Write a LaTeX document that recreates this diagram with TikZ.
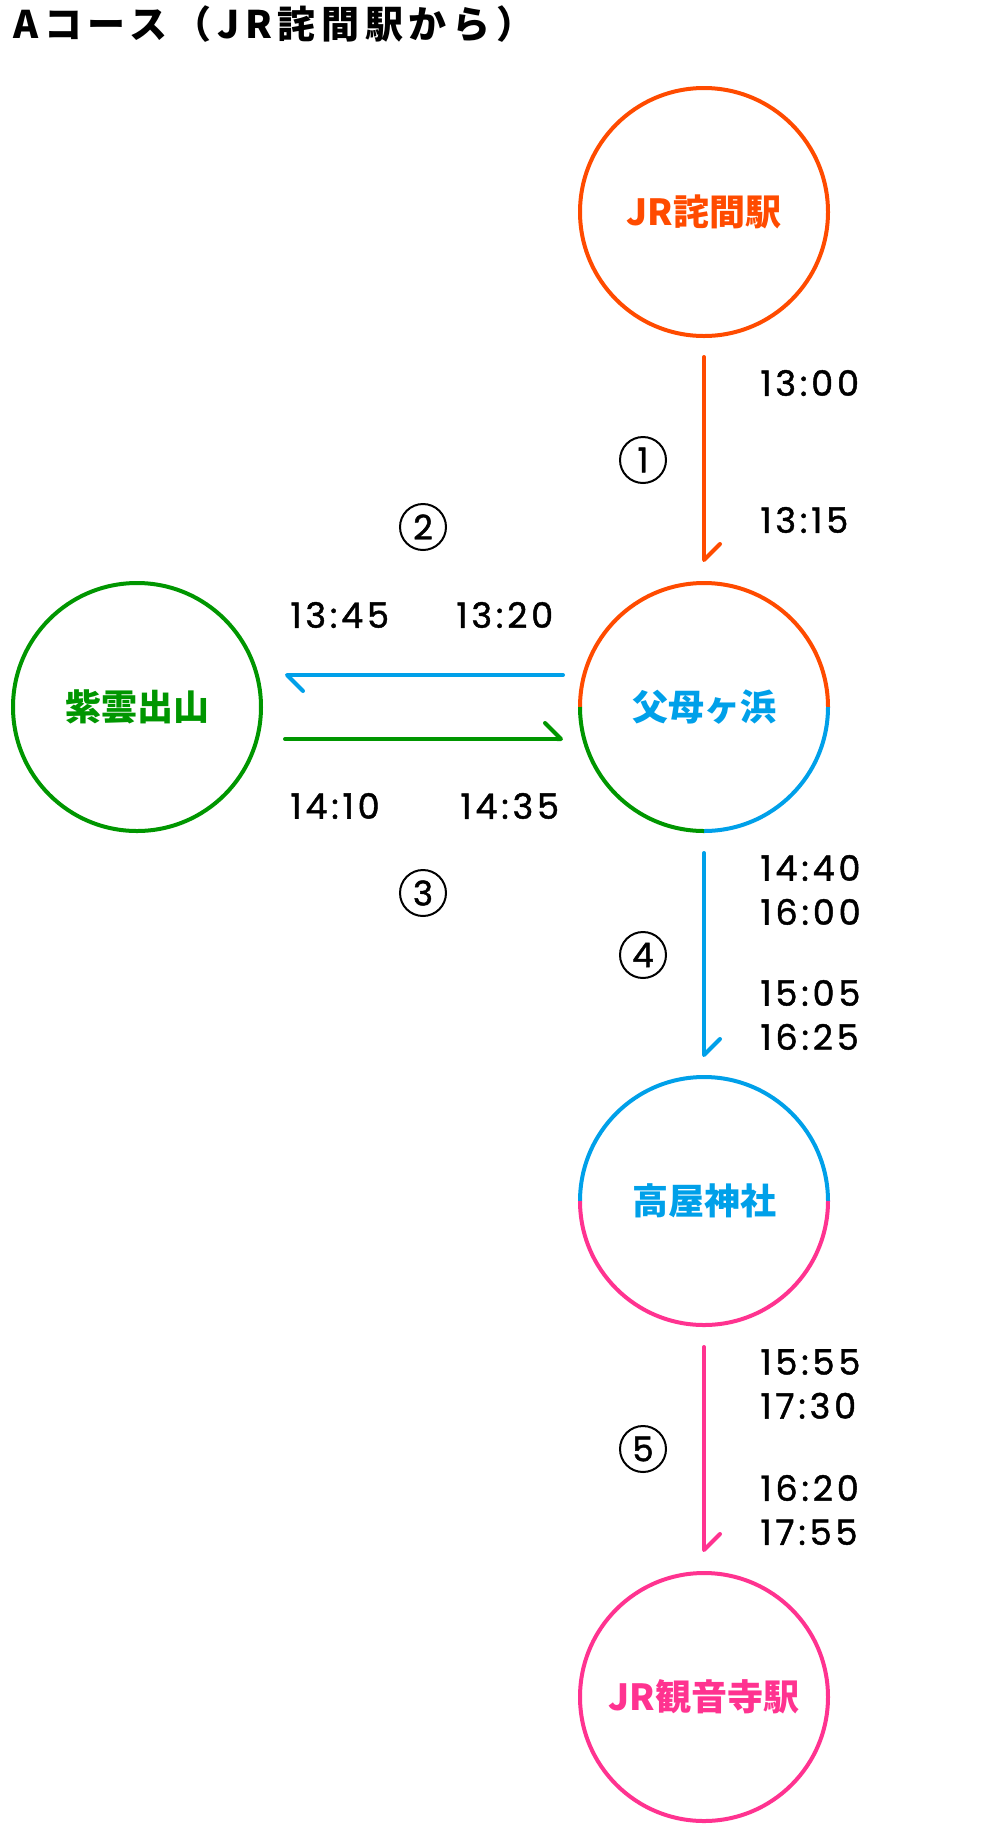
\documentclass[tikz,border=0pt]{standalone}
\usepackage{fontspec}
\usetikzlibrary{positioning,arrows.meta}
\newfontfamily\jpfont{Noto Sans CJK JP}
\newfontfamily\timefont[LetterSpace=11, FakeBold=1.3]{Poppins}
\definecolor{routeorange}{HTML}{FF4B00}
\definecolor{routeblue}{HTML}{00A0E9}
\definecolor{routegreen}{HTML}{009600}
\definecolor{routepink}{HTML}{FF3390}

\begin{document}
\begin{tikzpicture}
  [x=0.5pt, y=0.5pt,
   station/.style={circle, line width=2pt, minimum size=124pt, inner sep=0pt, font=\jpfont\bfseries\fontsize{18}{20}\selectfont},
   time/.style={anchor=west, align=left, inner sep=0pt, font=\timefont\fontsize{17.5}{22}\selectfont},
   stepnum/.style={circle, draw, line width=1pt, minimum size=23pt, inner sep=0pt, font=\timefont\fontsize{17}{20}\selectfont},
   route/.style={line width=2pt, line cap=round, -{Straight Barb[left, length=8pt, width=16pt, round]}}]

  \useasboundingbox (0,0) rectangle (1000,-1837);

  \node[anchor=base west, inner sep=0pt, font=\jpfont\bfseries\fontsize{19}{20}\selectfont\addfontfeature{LetterSpace=15}] (title) at (13,-38) {Aコース（JR詫間駅から）};

  % stations
  \node[station, draw=routeorange, text=routeorange] (takuma) at (704,-212) {JR詫間駅};
  \node[station, text=routeblue] (hama) at (704,-707) {父母ヶ浜};
  \node[station, draw=routegreen, text=routegreen] (shiude) at (137,-707) {紫雲出山};
  \node[station, text=routeblue] (takaya) at (704,-1201) {高屋神社};
  \node[station, draw=routepink, text=routepink] (kanonji) at (704,-1697) {JR観音寺駅};

  % split rings
  \draw[routeorange, line width=2pt] (hama.center) ++(180:62pt) arc[start angle=180, end angle=0, radius=62pt];
  \draw[routeblue, line width=2pt] (hama.center) ++(0:62pt) arc[start angle=0, end angle=-90, radius=62pt];
  \draw[routegreen, line width=2pt] (hama.center) ++(-90:62pt) arc[start angle=-90, end angle=-180, radius=62pt];
  \draw[routeblue, line width=2pt] (takaya.center) ++(180:62pt) arc[start angle=180, end angle=0, radius=62pt];
  \draw[routepink, line width=2pt] (takaya.center) ++(0:62pt) arc[start angle=0, end angle=-180, radius=62pt];

  % routes
  \draw[route, routeorange, shorten <=9.5pt, shorten >=9.5pt] (takuma.south) -- (hama.north);
  \draw[route, routeblue, shorten <=7.5pt, shorten >=11pt] ([yshift=16pt]hama.west) -- ([yshift=16pt]shiude.east);
  \draw[route, routegreen, shorten <=11pt, shorten >=7.5pt] ([yshift=-16pt]shiude.east) -- ([yshift=-16pt]hama.west);
  \draw[route, routeblue, shorten <=10pt, shorten >=9pt] (hama.south) -- (takaya.north);
  \draw[route, routepink, shorten <=10pt, shorten >=9.5pt] (takaya.south) -- (kanonji.north);

  \foreach \n/\x/\y in {1/643/-460, 2/423/-527, 3/423/-893, 4/643/-955, 5/643/-1449}
    \node[stepnum] (num\n) at (\x,\y) {\n};

  \foreach \name/\x/\y/\txt in {t1/760/-383/{13:00}, t2/760/-520/{13:15}, t3/290/-615/{13:45}, t4/456/-615/{13:20},
      t5/290/-806/{14:10}, t6/460/-806/{14:35}, t7/760/-890/{14:40\\16:00}, t8/760/-1015/{15:05\\16:25},
      t9/760/-1384/{15:55\\17:30}, t10/760/-1510/{16:20\\17:55}}
    \node[time] (\name) at (\x,\y) {\txt};
\end{tikzpicture}
\end{document}
